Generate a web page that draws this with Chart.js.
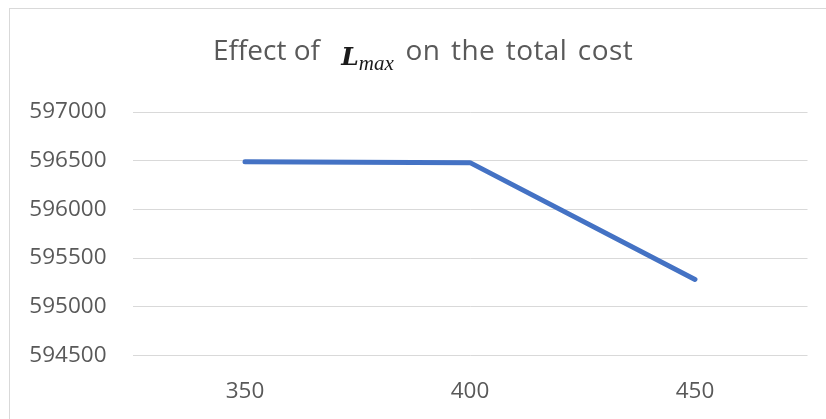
<!DOCTYPE html>
<html>
<head>
<meta charset="utf-8">
<script src="https://cdn.jsdelivr.net/npm/chart.js@4.4.0/dist/chart.umd.min.js"></script>
<style>
  html, body { margin: 0; padding: 0; background: #ffffff; overflow: hidden; }
  #wrap { position: relative; width: 826px; height: 419px; }
  #frame { position: absolute; left: 9px; top: 8px; width: 840px; height: 430px; border: 1px solid #d9d9d9; box-sizing: border-box; }
  #title { position: absolute; left: 10px; width: 826px; top: 34.5px; text-align: center; font-family: "Open Sans", sans-serif; font-size: 28px; line-height: 28px; color: #595959; white-space: nowrap; }
  #title .L { font-family: "DejaVu Serif", "Liberation Serif", serif; font-style: italic; font-weight: bold; font-size: 25px; color: #1a1a1a; margin-left: 14px; position: relative; top: 5px; }
  #title .sub { font-family: "Liberation Serif", "DejaVu Serif", serif; font-style: italic; font-size: 21px; color: #1a1a1a; position: relative; top: 10px; margin-right: 1px; }
  #title .rest { word-spacing: 3px; letter-spacing: 0.4px; }
  canvas { position: absolute; left: 0; top: 0; }
</style>
</head>
<body>
<div id="wrap">
  <div id="frame"></div>
  <canvas id="c" width="826" height="419"></canvas>
  <div id="title">Effect of <span class="L">L</span><span class="sub">max</span><span class="rest"> on the total cost</span></div>
</div>
<script>
const categories = ['350', '400', '450'];
const totalCost = [596490, 596480, 595280];
const yMin = 594500;
const yMax = 597000;
const yStep = 500;

const ctx = document.getElementById('c').getContext('2d');
new Chart(ctx, {
  type: 'line',
  data: {
    labels: categories,
    datasets: [{
      data: totalCost,
      borderColor: '#4472C4',
      borderWidth: 5,
      borderCapStyle: 'round',
      borderJoinStyle: 'round',
      pointRadius: 0,
      pointHoverRadius: 0,
      tension: 0,
      fill: false
    }]
  },
  options: {
    responsive: false,
    animation: false,
    devicePixelRatio: 1,
    layout: { padding: { left: 0, right: 18.5, top: 112, bottom: 0 } },
    plugins: { legend: { display: false }, title: { display: false }, tooltip: { enabled: false } },
    scales: {
      x: {
        offset: true,
        grid: { display: false, drawTicks: false },
        border: { display: false },
        ticks: { color: '#595959', font: { family: '"Open Sans", sans-serif', size: 22.5 }, padding: 23 },
        afterFit: (s) => { s.height = 63.6; }
      },
      y: {
        min: yMin,
        max: yMax,
        ticks: { stepSize: yStep, color: '#595959', font: { family: '"Open Sans", sans-serif', size: 22.5 }, padding: 26, callback: (v) => String(v) },
        grid: { color: '#d9d9d9', lineWidth: 1, drawTicks: false },
        border: { display: false },
        afterFit: (s) => { s.width = 132.5; }
      }
    }
  }
});
</script>
</body>
</html>
